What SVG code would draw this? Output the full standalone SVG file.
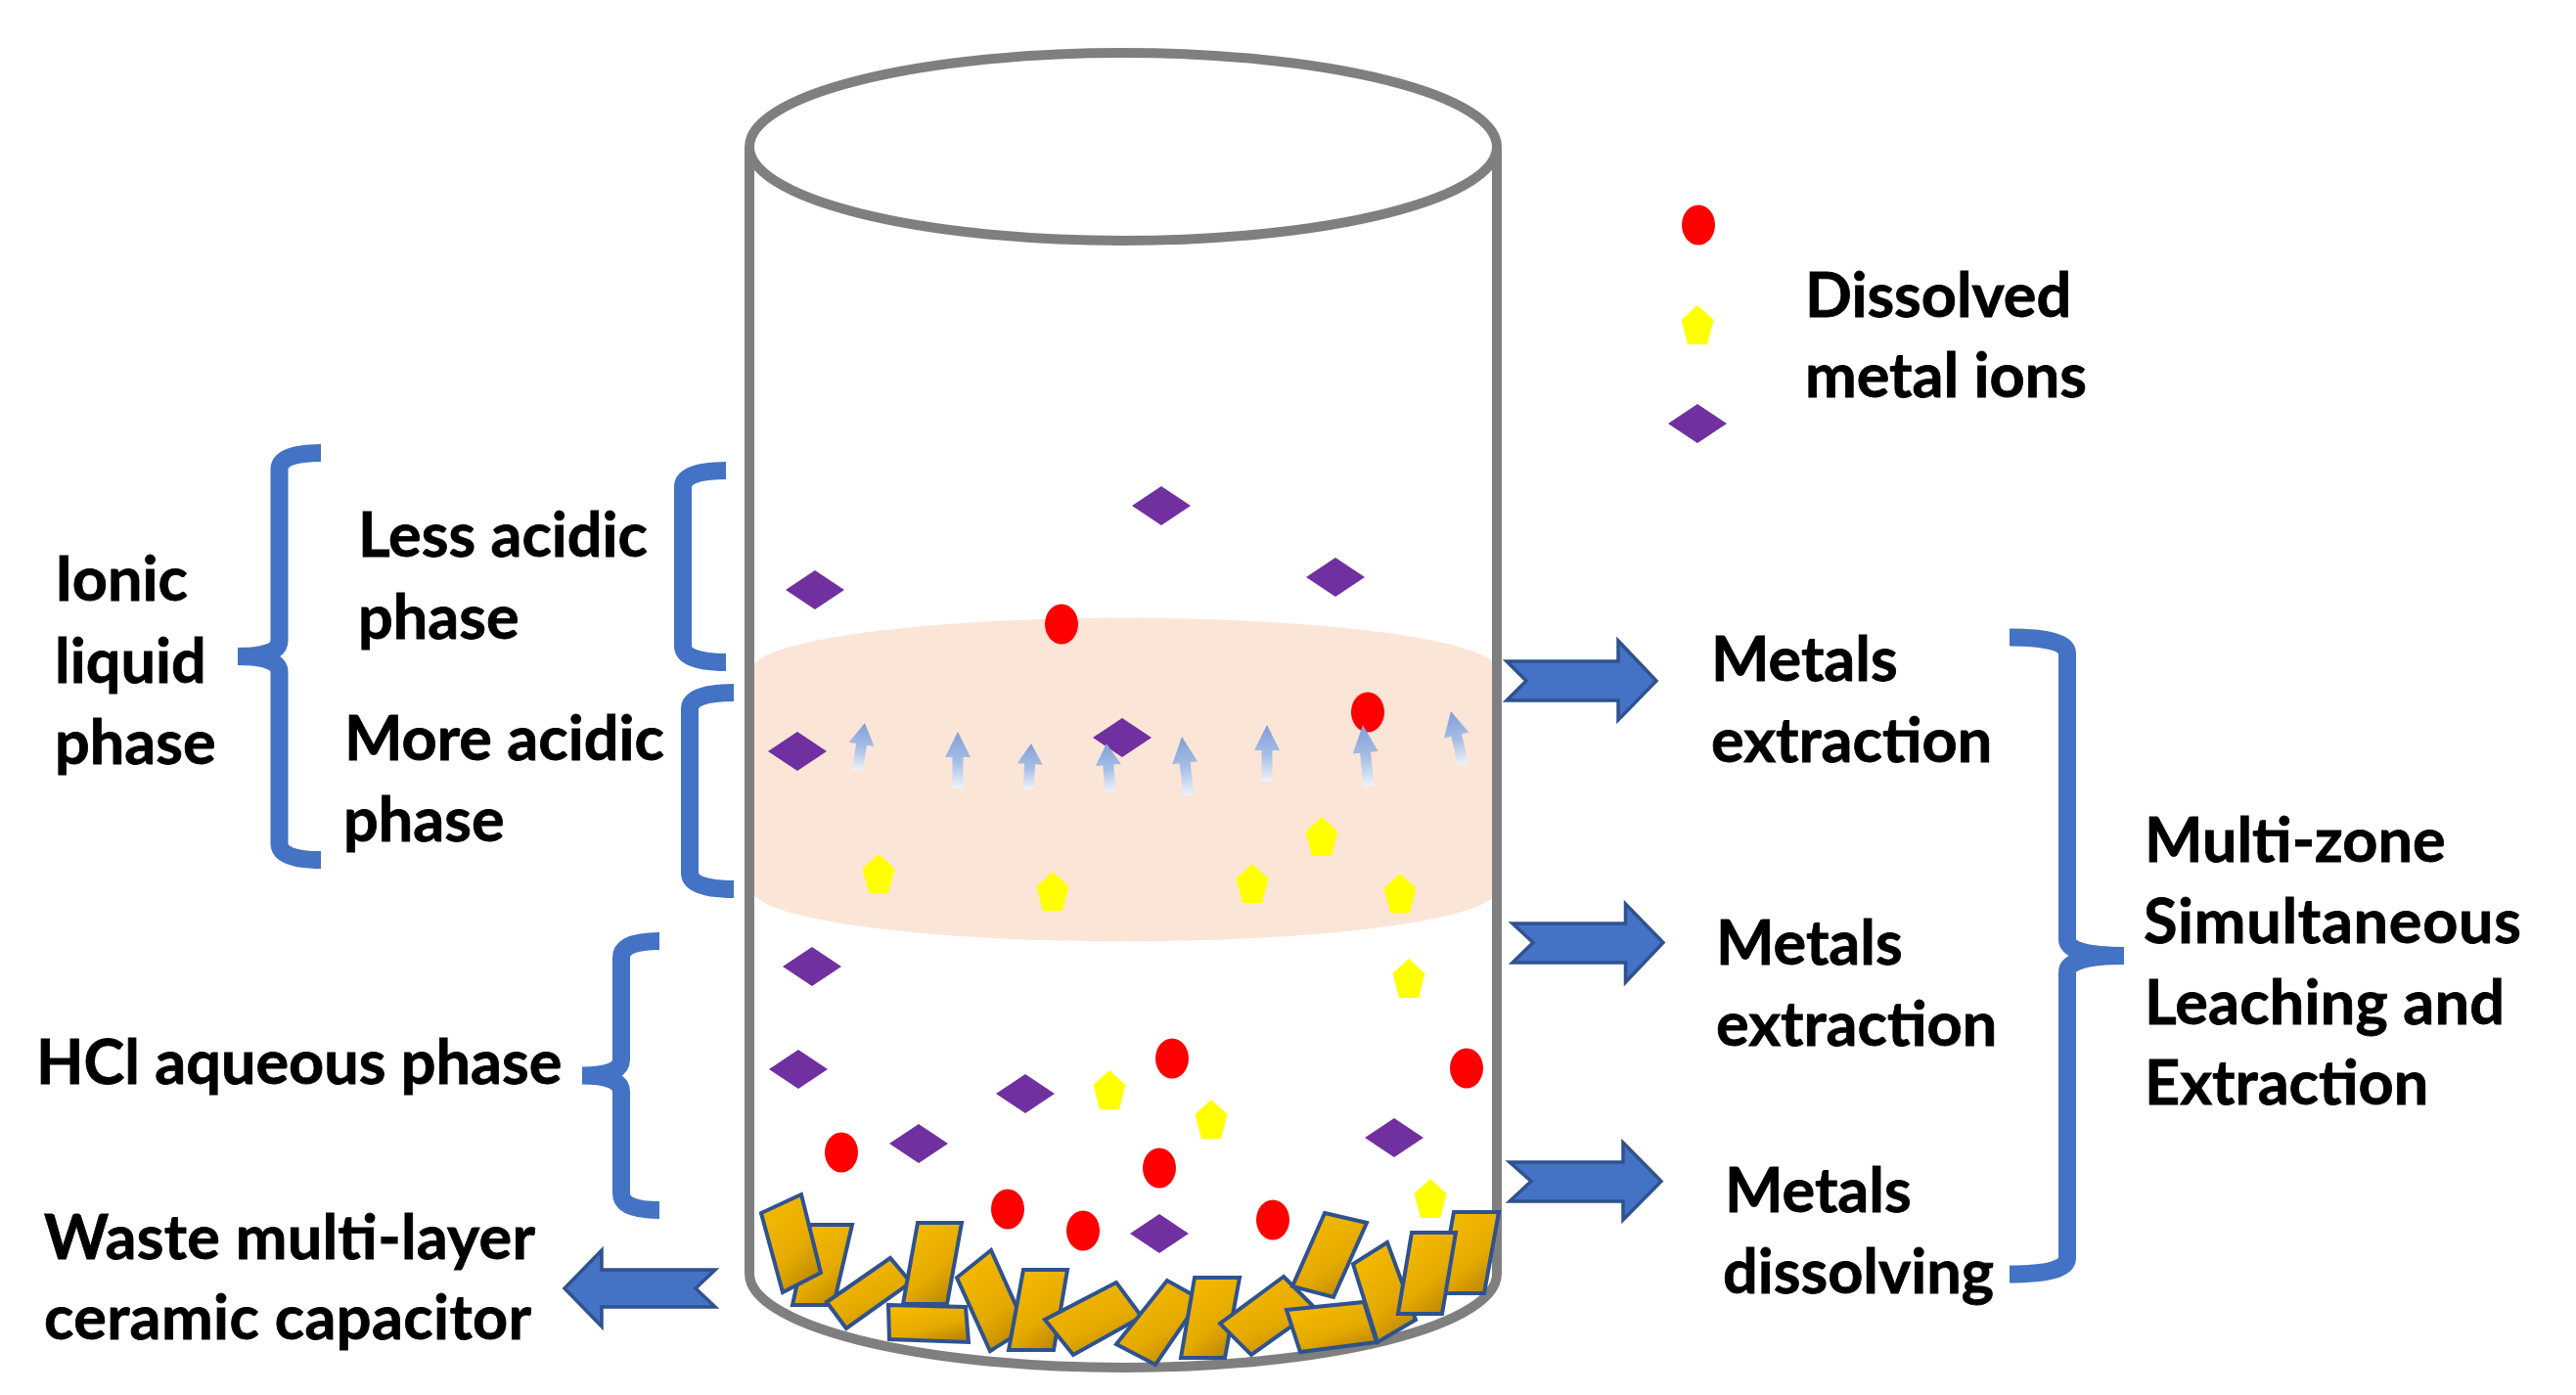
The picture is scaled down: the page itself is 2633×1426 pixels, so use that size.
<svg xmlns="http://www.w3.org/2000/svg" width="2633" height="1426" viewBox="0 0 2633 1426">
<style>
text{font-family:"Lato","Carlito","Liberation Sans",sans-serif;font-weight:700;font-size:63px;fill:#000;stroke:#000;stroke-width:.8}
.wall{fill:none;stroke:#7f7f7f;stroke-width:10}
.brace{fill:none;stroke:#4472c4;stroke-width:18}
.block{fill:#4472c4;stroke:#2f528f;stroke-width:3.500}
.chip{fill:url(#gold);stroke:#2f528f;stroke-width:4}
.red{fill:#f00}.vio{fill:#7030a0}.yel{fill:#ff0}
</style>
<defs>
<linearGradient id="gold" x1="0.2" y1="0" x2="0.8" y2="1"><stop offset="0" stop-color="#f5bb00"/><stop offset="0.6" stop-color="#e5aa00"/><stop offset="1" stop-color="#b98600"/></linearGradient>
<linearGradient id="rise" x1="0" y1="0" x2="0" y2="1"><stop offset="0" stop-color="#7f9fd8"/><stop offset="0.55" stop-color="#a9c0e6"/><stop offset="1" stop-color="#eef3fb"/></linearGradient>
<path id="up" d="M0,0L13,26H5.500V58H-5.500V26H-13Z" fill="url(#rise)"/>
<ellipse id="ion" rx="17" ry="20.500" class="red"/>
<path id="dia" d="M0,-20L30,0L0,20L-30,0Z" class="vio"/>
<path id="pen" d="M0,0L16.500,15L10,40H-10L-16.500,15Z" class="yel"/>
</defs>
<g id="organic-band"><path d="M769,682A381,53 0 0 1 1530,682V912A381,53 0 0 1 769,912Z" fill="#fbe5d6"/></g>
<g id="cylinder">
<ellipse class="wall" cx="1148" cy="150" rx="382" ry="96"/>
<path class="wall" d="M766,150V1302A382,96 0 0 0 1530,1302V150"/>
</g>
<g id="connectors">
<path class="block" d="M1540,676L1560,696L1540,716H1654V736L1693,696L1654,655V676Z"/>
<path class="block" d="M1546,944L1567,963.500L1546,984H1661.500V1004L1700,963.500L1661.500,924V944Z"/>
<path class="block" d="M1543,1188L1565,1207.500L1543,1228H1659V1247L1698,1207.500L1659,1168V1188Z"/>
<path class="block" d="M577,1317L615,1278V1298H731L711,1317L731,1336H615V1356Z"/>
</g>
<g id="braces">
<path class="brace" d="M328,463Q285.500,463 285.500,480V655Q285.500,671 243,671Q285.500,671 285.500,687V862Q285.500,879 328,879"/>
<path class="brace" d="M742,481Q698,481 698,498V660Q698,677 742,677"/>
<path class="brace" d="M750,708Q705,708 705,725V892Q705,909 750,909"/>
<path class="brace" d="M674,962Q635,962 635,979V1083Q635,1099.500 595,1099.500Q635,1099.500 635,1116V1220Q635,1237 674,1237"/>
<path class="brace" d="M2054,651.500Q2113,651.500 2113,668V960Q2113,977 2171,977Q2113,977 2113,994V1286Q2113,1302.500 2054,1302.500"/>
</g>
<g id="ions">
<use href="#ion" x="1736" y="230"/>
<use href="#ion" x="1085" y="638"/>
<use href="#ion" x="1398" y="728"/>
<use href="#ion" x="1198" y="1082"/>
<use href="#ion" x="1499" y="1092"/>
<use href="#ion" x="860" y="1178"/>
<use href="#ion" x="1185" y="1194"/>
<use href="#ion" x="1030" y="1236"/>
<use href="#ion" x="1107" y="1258"/>
<use href="#ion" x="1301" y="1247"/>
<use href="#dia" x="1735" y="433"/>
<use href="#dia" x="1187" y="517"/>
<use href="#dia" x="833" y="603"/>
<use href="#dia" x="1365" y="590"/>
<use href="#dia" x="815" y="768"/>
<use href="#dia" x="1147" y="754"/>
<use href="#dia" x="830" y="988"/>
<use href="#dia" x="816" y="1093"/>
<use href="#dia" x="1048" y="1118"/>
<use href="#dia" x="939" y="1169"/>
<use href="#dia" x="1425" y="1163"/>
<use href="#dia" x="1185" y="1261"/>
<use href="#pen" x="1735" y="312"/>
<use href="#pen" x="898" y="873"/>
<use href="#pen" x="1076" y="891"/>
<use href="#pen" x="1280" y="883"/>
<use href="#pen" x="1351" y="835"/>
<use href="#pen" x="1431" y="893"/>
<use href="#pen" x="1440" y="980"/>
<use href="#pen" x="1134" y="1094"/>
<use href="#pen" x="1238" y="1124"/>
<use href="#pen" x="1462" y="1205"/>
</g>
<g id="rising-arrows">
<use href="#up" transform="translate(884 739) rotate(9) scale(1 .85)"/>
<use href="#up" transform="translate(979 748)"/>
<use href="#up" transform="translate(1054 760) rotate(3.600) scale(1 .81)"/>
<use href="#up" transform="translate(1131 760) rotate(-4.700) scale(1 .85)"/>
<use href="#up" transform="translate(1208 753) rotate(-6.600) scale(1 1.04)"/>
<use href="#up" transform="translate(1295 741)"/>
<use href="#up" transform="translate(1393 741) rotate(-5.400) scale(1 1.09)"/>
<use href="#up" transform="translate(1483 727) rotate(-13) scale(1 .97)"/>
</g>
<g id="capacitors" transform="translate(0 -1)">
<polygon class="chip" points="828,1253 871,1253 852,1335 810,1335"/>
<polygon class="chip" points="819,1222 778,1241 800,1322 839,1302"/>
<polygon class="chip" points="910,1287 845,1332 865,1359 931,1312"/>
<polygon class="chip" points="938,1251 983,1251 968,1334 923,1334"/>
<polygon class="chip" points="908,1335 987,1337 990,1373 909,1370"/>
<polygon class="chip" points="1013,1279 978,1307 1012,1382 1049,1359"/>
<polygon class="chip" points="1046,1299 1091,1299 1077,1381 1031,1381"/>
<polygon class="chip" points="1141,1312 1068,1350 1097,1386 1167,1347"/>
<polygon class="chip" points="1193,1310 1141,1375 1181,1396 1227,1329"/>
<polygon class="chip" points="1221,1307 1267,1307 1252,1389 1207,1389"/>
<polygon class="chip" points="1312,1306 1247,1354 1279,1386 1345,1339"/>
<polygon class="chip" points="1354,1241 1397,1251 1363,1327 1321,1316"/>
<polygon class="chip" points="1418,1271 1383,1293 1408,1373 1447,1350"/>
<polygon class="chip" points="1315,1340 1394,1332 1407,1373 1329,1383"/>
<polygon class="chip" points="1486,1240 1532,1240 1517,1323 1471,1323"/>
<polygon class="chip" points="1443,1261 1488,1261 1474,1344 1429,1344"/>
</g>
<g id="labels">
<text x="56" y="614">Ionic</text>
<text x="56" y="698">liquid</text>
<text x="56" y="781">phase</text>
<text x="366" y="569">Less acidic</text>
<text x="366" y="653">phase</text>
<text x="352" y="777">More acidic</text>
<text x="351" y="860">phase</text>
<text x="37" y="1108">HCl aqueous phase</text>
<text x="45" y="1287" textLength="502">Waste multi-layer</text>
<text x="45" y="1369" textLength="498">ceramic capacitor</text>
<text x="1749" y="696">Metals</text>
<text x="1749" y="779">extraction</text>
<text x="1754" y="986">Metals</text>
<text x="1754" y="1069">extraction</text>
<text x="1763" y="1239">Metals</text>
<text x="1761" y="1322">dissolving</text>
<text x="2192" y="881">Multi-zone</text>
<text x="2191" y="964" textLength="386">Simultaneous</text>
<text x="2192" y="1047" textLength="368">Leaching and</text>
<text x="2192" y="1129">Extraction</text>
<text x="1845" y="324">Dissolved</text>
<text x="1845" y="406">metal ions</text>
</g>
</svg>
